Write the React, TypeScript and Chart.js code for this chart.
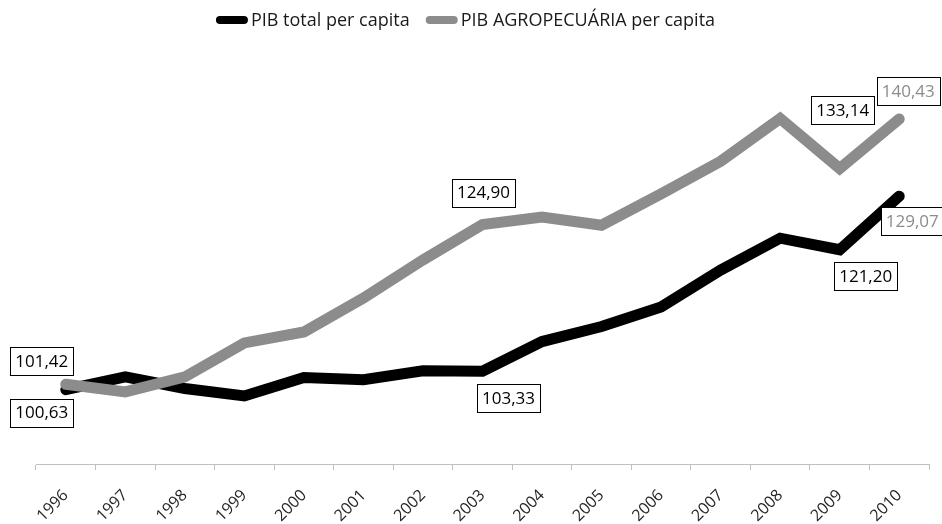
import { useEffect, useRef } from 'react';
import { Chart, registerables } from 'chart.js';

Chart.register(...registerables);

const years = ['1996', '1997', '1998', '1999', '2000', '2001', '2002', '2003', '2004', '2005', '2006', '2007', '2008', '2009', '2010'];
const pibTotal = [100.63, 102.5, 100.8, 99.7, 102.4, 102.1, 103.4, 103.33, 107.7, 109.9, 112.8, 118.2, 122.9, 121.2, 129.07];
const pibAgro = [101.42, 100.3, 102.5, 107.5, 109.1, 114.1, 119.7, 124.9, 126.0, 124.8, 129.4, 134.2, 140.5, 133.14, 140.43];
const seriesNames = ['PIB total per capita', 'PIB AGROPECUÁRIA per capita'];
const yMin = 89.7;
const yMax = 151.0;

const BLACK = '#000000';
const GRAY = '#8c8c8c';
const FONT = '"Open Sans", "Noto Sans", sans-serif';

// which points get a value box (dataset index, point index) and the box offset / text colour
const labelledPoints = [
  { ds: 1, i: 0, dx: -24, dy: -23.5, color: '#000000' },
  { ds: 0, i: 0, dx: -24, dy: 23, color: '#000000' },
  { ds: 1, i: 7, dx: 1, dy: -32, color: '#000000' },
  { ds: 0, i: 7, dx: 26, dy: 27, color: '#000000' },
  { ds: 1, i: 13, dx: 3, dy: -58, color: '#000000' },
  { ds: 1, i: 14, dx: 9, dy: -28, color: GRAY },
  { ds: 0, i: 13, dx: 26, dy: 26.5, color: '#000000' },
  { ds: 0, i: 14, dx: 13, dy: 25, color: GRAY },
];

const valueBoxes = {
  id: 'valueBoxes',
  afterDatasetsDraw(chart: any) {
    const ctx = chart.ctx;
    ctx.save();
    ctx.font = `17px ${FONT}`;
    ctx.textAlign = 'center';
    ctx.textBaseline = 'middle';
    for (const lp of labelledPoints) {
      const el = chart.getDatasetMeta(lp.ds).data[lp.i];
      const v = chart.data.datasets[lp.ds].data[lp.i] as number;
      const text = v.toFixed(2).replace('.', ',');
      const cx = el.x + lp.dx;
      const cy = el.y + lp.dy;
      const w = Math.round(ctx.measureText(text).width + 10);
      const h = 28;
      const x0 = Math.round(cx - w / 2) + 0.5;
      const y0 = Math.round(cy - h / 2) + 0.5;
      ctx.fillStyle = '#ffffff';
      ctx.fillRect(x0, y0, w, h);
      ctx.strokeStyle = '#000000';
      ctx.lineWidth = 1;
      ctx.strokeRect(x0, y0, w, h);
      ctx.fillStyle = lp.color;
      ctx.fillText(text, cx, cy + 1);
    }
    ctx.restore();
  },
};

const customLegend = {
  id: 'customLegend',
  afterDraw(chart: any) {
    const ctx = chart.ctx;
    ctx.save();
    ctx.font = `18px ${FONT}`;
    ctx.textBaseline = 'middle';
    ctx.textAlign = 'left';
    const ds = chart.data.datasets;
    const sw = 32, sh = 8, gap = 3, between = 16;
    const widths = ds.map((d: any) => ctx.measureText(d.label).width);
    let total = 0;
    widths.forEach((w: number, k: number) => {
      total += sw + gap + w + (k < widths.length - 1 ? between : 0);
    });
    let x = 465.5 - total / 2;
    const y = 20;
    ds.forEach((d: any, k: number) => {
      ctx.fillStyle = d.borderColor;
      ctx.beginPath();
      ctx.roundRect(x, y - sh / 2, sw, sh, sh / 2);
      ctx.fill();
      x += sw + gap;
      ctx.fillStyle = '#1a1a1a';
      ctx.fillText(d.label, x, y + 1);
      x += widths[k] + between;
    });
    ctx.restore();
  },
};

export default function App() {
  const canvasRef = useRef<HTMLCanvasElement | null>(null);

  useEffect(() => {
    if (!canvasRef.current) return;
    const chart = new Chart(canvasRef.current, {
      type: 'line',
      data: {
        labels: years,
        datasets: [
          {
            label: seriesNames[0],
            data: pibTotal,
            borderColor: BLACK,
            backgroundColor: BLACK,
            borderWidth: 11,
            borderCapStyle: 'round',
            borderJoinStyle: 'miter',
            pointRadius: 0,
            tension: 0,
            order: 1,
          },
          {
            label: seriesNames[1],
            data: pibAgro,
            borderColor: GRAY,
            backgroundColor: GRAY,
            borderWidth: 11,
            borderCapStyle: 'round',
            borderJoinStyle: 'miter',
            pointRadius: 0,
            tension: 0,
            order: 0,
          },
        ],
      },
      options: {
        animation: false,
        responsive: true,
        maintainAspectRatio: false,
        layout: { padding: { left: 36, right: 13, top: 47, bottom: 0 } },
        plugins: {
          legend: { display: false },
          tooltip: { enabled: false },
        },
        scales: {
          x: {
            offset: true,
            afterFit: (scale: any) => {
              scale.height = 60;
            },
            grid: {
              offset: true,
              drawOnChartArea: false,
              drawTicks: true,
              tickLength: 6,
              color: '#bfbfbf',
            },
            border: { display: true, color: '#bfbfbf', width: 1 },
            ticks: {
              minRotation: 45,
              maxRotation: 45,
              padding: 16,
              color: '#262626',
              font: { family: FONT, size: 16 },
            },
          },
          y: {
            display: false,
            min: yMin,
            max: yMax,
          },
        },
      },
      plugins: [valueBoxes, customLegend],
    });
    return () => chart.destroy();
  }, []);

  return (
    <div style={{ position: 'fixed', left: 0, top: 0, width: '942px', height: '524px', background: '#ffffff' }}>
      <canvas ref={canvasRef} />
    </div>
  );
}
